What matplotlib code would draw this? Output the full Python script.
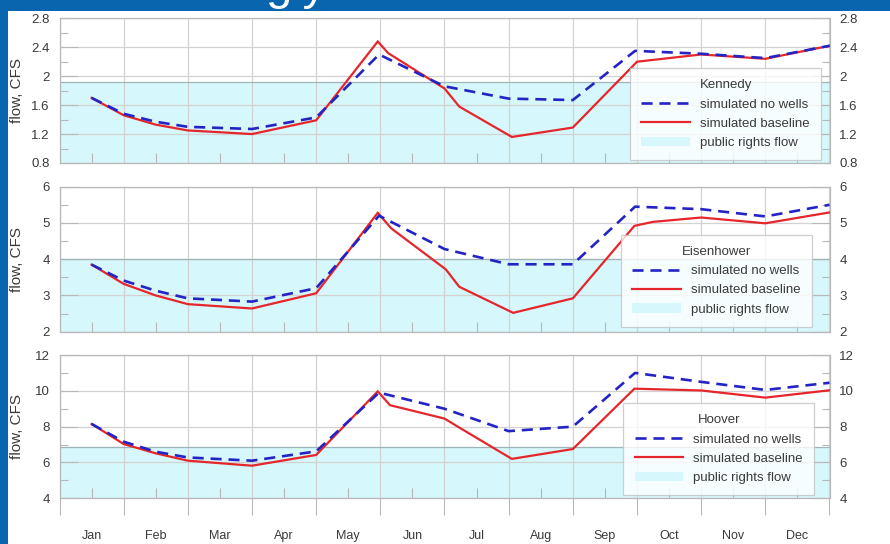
import matplotlib
matplotlib.use("Agg")
import matplotlib.pyplot as plt
from matplotlib.lines import Line2D
from matplotlib.patches import Patch, Rectangle
from matplotlib.ticker import MultipleLocator, FixedLocator, NullFormatter

plt.rcParams["font.family"] = ["Liberation Sans", "DejaVu Sans"]

# Month labels (ticks sit at month centres; grid lines at month boundaries)
months = ["Jan", "Feb", "Mar", "Apr", "May", "Jun",
          "Jul", "Aug", "Sep", "Oct", "Nov", "Dec"]

# --- Kennedy ---
kennedy_base_x = [0.5, 1.0, 1.5, 2.0, 3.0, 4.0, 4.96, 5.12, 6.0, 6.23, 7.05, 8.0, 9.0, 10.0, 11.0, 12.0]
kennedy_base = [1.70, 1.46, 1.33, 1.25, 1.20, 1.39, 2.48, 2.32, 1.83, 1.58, 1.16, 1.29, 2.20, 2.30, 2.24, 2.42]
kennedy_nowells_x = [0.5, 1.0, 1.5, 2.0, 3.0, 4.0, 4.98, 6.0, 7.0, 8.0, 8.97, 10.0, 11.0, 12.0]
kennedy_nowells = [1.70, 1.48, 1.37, 1.30, 1.27, 1.43, 2.30, 1.86, 1.69, 1.67, 2.35, 2.31, 2.25, 2.42]
kennedy_rights = 1.92

# --- Eisenhower ---
eisen_base_x = [0.5, 1.0, 1.5, 2.0, 3.0, 4.0, 4.96, 5.17, 6.02, 6.23, 7.07, 8.0, 8.96, 9.25, 10.0, 11.0, 12.0]
eisen_base = [3.85, 3.32, 3.00, 2.76, 2.64, 3.06, 5.28, 4.85, 3.72, 3.24, 2.52, 2.92, 4.92, 5.03, 5.15, 4.99, 5.29]
eisen_nowells_x = [0.5, 1.0, 1.5, 2.0, 3.0, 4.0, 4.98, 6.0, 7.0, 8.0, 8.97, 10.0, 11.0, 12.0]
eisen_nowells = [3.85, 3.41, 3.13, 2.92, 2.83, 3.20, 5.20, 4.28, 3.86, 3.86, 5.45, 5.38, 5.18, 5.50]
eisen_rights = 4.0

# --- Hoover ---
hoover_base_x = [0.5, 1.0, 1.5, 2.0, 3.0, 4.0, 4.96, 5.15, 6.0, 6.23, 7.05, 8.0, 8.96, 10.0, 11.0, 12.0]
hoover_base = [8.15, 7.03, 6.51, 6.10, 5.82, 6.42, 9.97, 9.20, 8.45, 7.95, 6.20, 6.75, 10.12, 10.02, 9.62, 10.03]
hoover_nowells_x = [0.5, 1.0, 1.5, 2.0, 3.0, 4.0, 4.98, 6.0, 7.0, 8.0, 8.97, 10.0, 11.0, 12.0]
hoover_nowells = [8.15, 7.16, 6.60, 6.28, 6.10, 6.62, 9.90, 9.00, 7.75, 8.00, 11.00, 10.50, 10.05, 10.45]
hoover_rights = 6.85

panels = [
    dict(name="Kennedy", bx=kennedy_base_x, by=kennedy_base, nx=kennedy_nowells_x, ny=kennedy_nowells,
         rights=kennedy_rights, ylim=(0.8, 2.8), major=0.4, minor=0.2,
         rect=(59.5, 18.3, 829.5, 163.0), leg=(0.989, 0.021)),
    dict(name="Eisenhower", bx=eisen_base_x, by=eisen_base, nx=eisen_nowells_x, ny=eisen_nowells,
         rights=eisen_rights, ylim=(2, 6), major=1, minor=0.5,
         rect=(59.5, 186.7, 829.5, 331.7), leg=(0.977, 0.034)),
    dict(name="Hoover", bx=hoover_base_x, by=hoover_base, nx=hoover_nowells_x, ny=hoover_nowells,
         rights=hoover_rights, ylim=(4, 12), major=2, minor=1,
         rect=(59.5, 355.0, 829.5, 498.3), leg=(0.980, 0.023)),
]

W, H = 890, 544
fig = plt.figure(figsize=(W / 100, H / 100), dpi=100, facecolor="#0865ae")

# white slide body
fig.patches.append(Rectangle((8 / W, 0), 1 - 8 / W, 1 - 10.7 / H, transform=fig.transFigure,
                             facecolor="white", edgecolor="none", zorder=-5))
# slide title, mostly above the visible area
fig.text(266 / W, 1 + 1 / H, "gly", color="white", fontsize=34, ha="left", va="baseline",
         zorder=-4)

RED = "#e5262b"
BLUE = "#2424c6"
CYAN = "#d6f7fb"
GRID = "#d2d2d2"
SPINE = "#b8b8b8"
TXT = "#3a3a3a"

for i, p in enumerate(panels):
    x0, y0, x1, y1 = p["rect"]
    ax = fig.add_axes([x0 / W, 1 - y1 / H, (x1 - x0) / W, (y1 - y0) / H])
    ax.set_zorder(2)
    ax.set_xlim(0, 12)
    ax.set_ylim(*p["ylim"])

    # public rights flow band
    ax.axhspan(p["ylim"][0], p["rights"], color=CYAN, zorder=0.5, lw=0)
    ax.axhline(p["rights"], color="#9fb4b6", lw=0.9, zorder=0.6)

    ax.plot(p["bx"], p["by"], color=RED, lw=1.6, zorder=3, solid_joinstyle="miter")
    ax.plot(p["nx"], p["ny"], color=BLUE, lw=1.9, dashes=(4.2, 2.6), zorder=4)

    # axes styling
    for s in ax.spines.values():
        s.set_color(SPINE)
        s.set_linewidth(0.9)
    ax.xaxis.set_major_locator(FixedLocator(list(range(0, 13))))
    ax.xaxis.set_minor_locator(FixedLocator([m + 0.5 for m in range(12)]))
    ax.xaxis.set_major_formatter(NullFormatter())
    ax.grid(True, which="major", axis="both", color=GRID, lw=0.9, zorder=1)
    ax.set_axisbelow(True)

    ax.yaxis.set_major_locator(MultipleLocator(p["major"]))
    ax.yaxis.set_minor_locator(MultipleLocator(p["minor"]))
    ax.yaxis.set_major_formatter(plt.FuncFormatter(lambda v, pos: "{:g}".format(round(v, 2))))
    ax.tick_params(axis="y", which="both", direction="in", left=True, right=True,
                   labelleft=True, labelright=True, colors=SPINE, labelcolor=TXT,
                   labelsize=9.5, pad=7)
    ax.tick_params(axis="y", which="major", length=13, width=0.8)
    ax.tick_params(axis="y", which="minor", length=6, width=0.8)

    ax.tick_params(axis="x", which="minor", direction="in", length=7, width=0.8, colors=SPINE,
                   bottom=True, top=False)
    if i == 2:
        ax.tick_params(axis="x", which="major", direction="out", length=12, width=0.8,
                       colors=SPINE)
        ax.set_xticklabels(months, minor=True)
        ax.tick_params(axis="x", which="minor", labelsize=9, labelcolor=TXT, pad=23)
    else:
        ax.tick_params(axis="x", which="major", length=0)
        ax.xaxis.set_minor_formatter(NullFormatter())

    ax.set_ylabel("flow, CFS", fontsize=11, color=TXT)
    ax.yaxis.set_label_coords(-(59.5 - 24) / 770, 0.5)

    handles = [
        Line2D([], [], color=BLUE, lw=1.9, dashes=(4.2, 2.6)),
        Line2D([], [], color=RED, lw=1.6),
        Patch(facecolor=CYAN, edgecolor="none"),
    ]
    labels = ["simulated no wells", "simulated baseline", "public rights flow"]
    leg = ax.legend(handles, labels, title=p["name"], loc="lower right",
                    bbox_to_anchor=p["leg"], borderaxespad=0, fontsize=9.5,
                    title_fontsize=9.5, frameon=True, fancybox=False,
                    handlelength=3.7, handletextpad=0.75, labelspacing=0.52,
                    borderpad=0.85)
    leg.get_frame().set_edgecolor("#c4c4c4")
    leg.get_frame().set_linewidth(0.9)
    leg.get_title().set_color(TXT)
    for t in leg.get_texts():
        t.set_color(TXT)
    leg.set_zorder(6)

fig.savefig("out.png", dpi=100, facecolor=fig.get_facecolor())
